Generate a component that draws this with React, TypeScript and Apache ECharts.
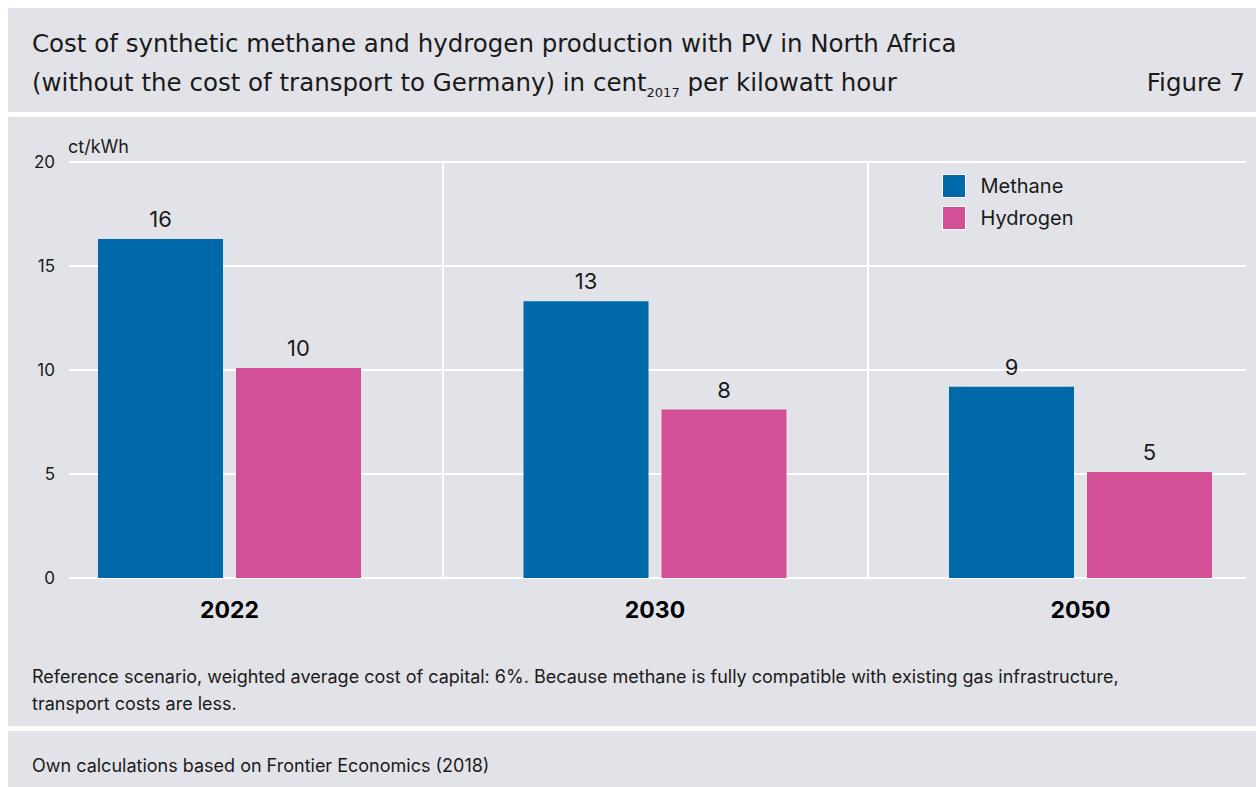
import React, { useEffect, useRef } from "react";
import * as echarts from "echarts";

const years = ["2022", "2030", "2050"];
const methane = [16.3, 13.3, 9.2];
const hydrogen = [10.1, 8.1, 5.1];
const yTicks = [0, 5, 10, 15, 20];
const separators = [0.5, 1.5];

const FONT = "Inter";
const TFONT = "DejaVu Sans";
const PANEL = "#e2e3e9";
const TXT = "#1a1a1a";

export default function App() {
  const ref = useRef<HTMLDivElement>(null);
  useEffect(() => {
    if (!ref.current) return;
    const chart = echarts.init(ref.current, undefined, { renderer: "svg" });
    const xmin = (69 - 229.5) / 425.5;
    const xmax = xmin + 1177 / 425.5;
    const barLabel = {
      show: true,
      position: "top",
      distance: 9,
      fontFamily: FONT,
      fontSize: 22,
      color: TXT,
      formatter: (p: any) => String(Math.round(p.value[1])),
    };
    const option: any = {
      animation: false,
      backgroundColor: "#ffffff",
      textStyle: { fontFamily: FONT, color: TXT },
      graphic: [
        { type: "rect", silent: true, z: -10, shape: { x: 8, y: 8, width: 1248, height: 104 }, style: { fill: PANEL } },
        { type: "rect", silent: true, z: -10, shape: { x: 8, y: 117, width: 1248, height: 609 }, style: { fill: PANEL } },
        { type: "rect", silent: true, z: -10, shape: { x: 8, y: 731, width: 1248, height: 56 }, style: { fill: PANEL } },
        {
          type: "text", x: 32, y: 43,
          style: { text: "Cost of synthetic methane and hydrogen production with PV in North Africa", fontFamily: TFONT, fontSize: 24.5, fill: TXT, verticalAlign: "middle" },
        },
        {
          type: "text", x: 32, y: 82,
          style: {
            text: "{a|(without the cost of transport to Germany) in cent}{s|2017}{a| per kilowatt hour}",
            fontFamily: TFONT, fill: TXT, verticalAlign: "middle",
            rich: {
              a: { fontFamily: TFONT, fontSize: 24.5, lineHeight: 34, verticalAlign: "middle", fill: TXT },
              s: { fontFamily: TFONT, fontSize: 13, lineHeight: 14, verticalAlign: "bottom", fill: TXT },
            },
          },
        },
        {
          type: "text", x: 1245, y: 82,
          style: { text: "Figure 7", fontFamily: TFONT, fontSize: 24.5, fill: TXT, align: "right", verticalAlign: "middle" },
        },
        {
          type: "text", x: 68, y: 146,
          style: { text: "ct/kWh", fontFamily: FONT, fontSize: 18, fill: TXT, verticalAlign: "middle" },
        },
        {
          type: "text", x: 32, y: 676,
          style: { text: "Reference scenario, weighted average cost of capital: 6%. Because methane is fully compatible with existing gas infrastructure,", fontFamily: FONT, fontSize: 18, fill: TXT, verticalAlign: "middle" },
        },
        {
          type: "text", x: 32, y: 703,
          style: { text: "transport costs are less.", fontFamily: FONT, fontSize: 18, fill: TXT, verticalAlign: "middle" },
        },
        {
          type: "text", x: 32, y: 765,
          style: { text: "Own calculations based on Frontier Economics (2018)", fontFamily: FONT, fontSize: 18, fill: TXT, verticalAlign: "middle" },
        },
      ],
      legend: {
        orient: "vertical",
        left: 942,
        top: 174,
        padding: 0,
        itemWidth: 23,
        itemHeight: 23,
        itemGap: 8,
        icon: "rect",
        itemStyle: { borderColor: "#ffffff", borderWidth: 1 },
        textStyle: { fontFamily: FONT, fontSize: 20, color: TXT, padding: [0, 0, 0, 10] },
        data: ["Methane", "Hydrogen"],
      },
      grid: { left: 69, right: 10, top: 162, bottom: 209, containLabel: false },
      xAxis: {
        type: "value",
        min: xmin,
        max: xmax,
        axisLine: { show: false },
        axisTick: { show: false },
        splitLine: { show: false },
        axisLabel: {
          customValues: [0, 1, 2],
          formatter: (v: number) => years[Math.round(v)] ?? "",
          fontFamily: FONT,
          fontSize: 23,
          fontWeight: "bold",
          color: "#000",
          margin: 20,
        },
      },
      yAxis: {
        type: "value",
        min: 0,
        max: 20,
        interval: 5,
        axisLine: { show: false },
        axisTick: { show: false },
        splitLine: { show: true, lineStyle: { color: "#ffffff", width: 2 } },
        axisLabel: {
          fontFamily: FONT,
          fontSize: 17,
          color: TXT,
          margin: 14,
          customValues: yTicks,
        },
      },
      series: [
        {
          name: "Methane",
          type: "bar",
          barWidth: 125,
          barGap: "10.4%",
          itemStyle: { color: "#0069aa" },
          data: methane.map((v, i) => [i, v]),
          label: barLabel,
        },
        {
          name: "Hydrogen",
          type: "bar",
          barWidth: 125,
          barGap: "10.4%",
          itemStyle: { color: "#d45096" },
          data: hydrogen.map((v, i) => [i, v]),
          label: barLabel,
        },
        {
          name: "sep",
          type: "scatter",
          data: [],
          silent: true,
          markLine: {
            silent: true,
            symbol: "none",
            label: { show: false },
            lineStyle: { color: "#ffffff", width: 2, type: "solid" },
            data: separators.map((x) => ({ xAxis: x })),
          },
        },
      ],
    };
    chart.setOption(option);
    return () => chart.dispose();
  }, []);
  return <div ref={ref} style={{ position: "absolute", left: 0, top: 0, width: 1256, height: 787 }} />;
}
